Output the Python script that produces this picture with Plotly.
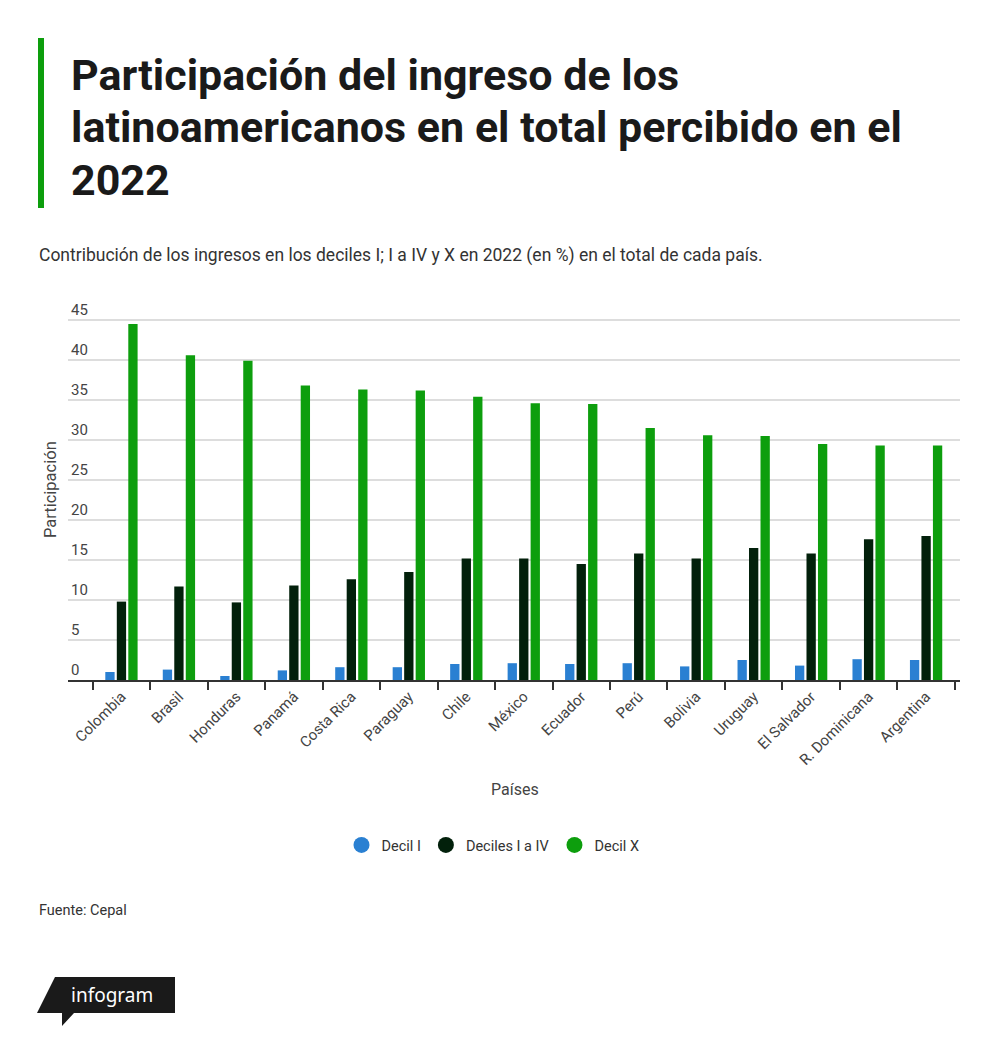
import plotly.graph_objects as go

paises = ["Colombia", "Brasil", "Honduras", "Panamá", "Costa Rica", "Paraguay", "Chile",
          "México", "Ecuador", "Perú", "Bolivia", "Uruguay", "El Salvador", "R. Dominicana",
          "Argentina"]
decil_1 = [1.0, 1.3, 0.5, 1.2, 1.6, 1.6, 2.0, 2.1, 2.0, 2.1, 1.7, 2.5, 1.8, 2.6, 2.5]
deciles_1_4 = [9.8, 11.7, 9.7, 11.8, 12.6, 13.5, 15.2, 15.2, 14.5, 15.8, 15.2, 16.5, 15.8, 17.6, 18.0]
decil_10 = [44.5, 40.6, 39.9, 36.8, 36.3, 36.2, 35.4, 34.6, 34.5, 31.5, 30.6, 30.5, 29.5, 29.3, 29.3]

series = [("Decil I", decil_1, "#2a80d2"),
          ("Deciles I a IV", deciles_1_4, "#02200b"),
          ("Decil X", decil_10, "#0d9e0d")]

# la página se dibuja con un margen de 8 px en el navegador
OFF = 8
W, H = 1000, 1046
Y_TOP = 49
ML, MR = 68 - OFF, W - (960 - OFF)
MB = H - (680 - OFF)
MT = H - MB - Y_TOP * 8
PW, PH = W - ML - MR, H - MT - MB


def px(x):
    return (x - OFF - ML) / PW


def py(y):
    return (H - MB - (y - OFF)) / PH


fig = go.Figure()
for nombre, valores, color in series:
    fig.add_trace(go.Bar(x=paises, y=valores, name=nombre, marker_color=color,
                         marker_line_width=0, showlegend=False, legendgroup=nombre))
    # marcador redondo para la leyenda
    fig.add_trace(go.Scatter(x=[paises[0]], y=[None], mode="markers", name=nombre,
                             legendgroup=nombre,
                             marker=dict(color=color, size=16, symbol="circle")))

font = "Roboto, Arial, sans-serif"
green = "#0d9e0d"

annotations = [
    dict(x=px(69), y=py(75), text="<b>Participación del ingreso de los</b>",
         font=dict(size=43, color="#1a1a1a", family=font)),
    dict(x=px(69), y=py(127), text="<b>latinoamericanos en el total percibido en el</b>",
         font=dict(size=43, color="#1a1a1a", family=font)),
    dict(x=px(69), y=py(180), text="<b>2022</b>",
         font=dict(size=43, color="#1a1a1a", family=font)),
    dict(x=px(37), y=py(256),
         text="Contribución de los ingresos en los deciles I; I a IV y X en 2022 (en %) en el total de cada país.",
         font=dict(size=17.5, color="#333333", family=font)),
    dict(x=px(37), y=py(910), text="Fuente: Cepal",
         font=dict(size=14.5, color="#333333", family=font)),
    dict(x=px(112), y=py(995), text="infogram", xanchor="center",
         font=dict(size=19, color="#ffffff", family="Noto Sans, sans-serif")),
    dict(x=px(515), y=py(789), text="Países", xanchor="center",
         font=dict(size=16, color="#444444", family=font)),
    dict(x=px(50), y=py(490), text="Participación", xanchor="center", textangle=-90,
         font=dict(size=16.5, color="#444444", family=font)),
]
for a in annotations:
    a.setdefault("xanchor", "left")
    a.update(xref="paper", yref="paper", yanchor="middle", showarrow=False)

shapes = [
    dict(type="rect", xref="paper", yref="paper", x0=px(38), x1=px(44), y0=py(38), y1=py(208),
         fillcolor=green, line_width=0),
    dict(type="path", xref="paper", yref="paper", fillcolor="#1a1a1a", line_width=0,
         path=("M {} {} L {} {} L {} {} L {} {} L {} {} L {} {} L {} {} Z".format(
             px(55), py(977), px(175), py(977), px(175), py(1013), px(74), py(1013),
             px(62), py(1026), px(62), py(1013), px(37), py(1013)))),
]

fig.update_layout(
    width=W, height=H,
    margin=dict(l=ML, r=MR, t=MT, b=MB, autoexpand=False),
    paper_bgcolor="white", plot_bgcolor="white",
    barmode="group", bargap=0.40, bargroupgap=0.19,
    font=dict(family=font, color="#444444"),
    annotations=annotations, shapes=shapes,
    legend=dict(orientation="h", x=px(493), xanchor="center", y=py(845), yanchor="middle",
                font=dict(size=14.5, color="#333333"), itemclick=False),
)
fig.update_xaxes(type="category", range=[-0.93, 14.59], tickson="boundaries",
                 ticks="outside", ticklen=8, tickcolor="#333333", tickwidth=1.5,
                 tickangle=-45, tickfont=dict(size=15, color="#444444"),
                 showline=True, linecolor="#333333", linewidth=2, showgrid=False)
fig.update_yaxes(range=[0, Y_TOP], tickvals=[0, 5, 10, 15, 20, 25, 30, 35, 40, 45],
                 showgrid=True, gridcolor="#dddddd", gridwidth=1.5,
                 zeroline=False, ticklabelposition="inside top",
                 tickfont=dict(size=15, color="#444444"), ticks="")

fig.write_html("out.html")
